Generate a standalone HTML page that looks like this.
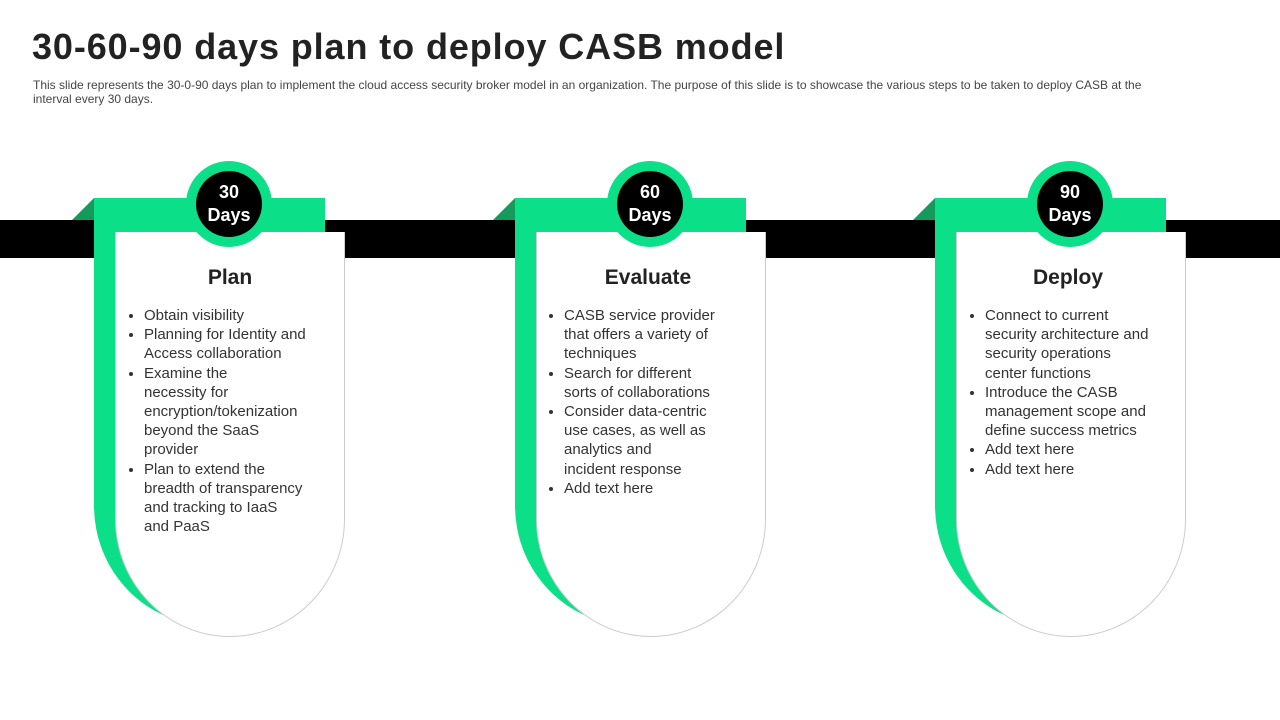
<!DOCTYPE html>
<html><head><style>
body{margin:0;width:1280px;height:720px;background:#fff;position:relative;overflow:hidden;font-family:"Liberation Sans",sans-serif;}
.t{position:absolute;left:32px;top:26px;font-size:36px;font-weight:bold;color:#222;letter-spacing:0.9px}
.s{position:absolute;left:33px;top:78px;font-size:12px;line-height:14px;color:#444;white-space:nowrap}
.band{position:absolute;left:0;top:220px;width:1280px;height:38px;background:#000}
.tri{position:absolute;width:0;height:0;border-bottom:22px solid #169a5c;border-left:22px solid transparent}
.g{position:absolute;width:231px;height:427px;background:#0be089;border-radius:0 0 116px 116px/0 0 120px 120px}
.w{position:absolute;width:230px;height:405px;background:#fff;border:1px solid #ccc;border-top:none;border-radius:0 0 115px 115px/0 0 118px 118px;box-sizing:border-box}
.c{position:absolute;width:86px;height:86px;border-radius:50%;background:#0be089}
.c div{position:absolute;left:10px;top:10px;width:66px;height:66px;border-radius:50%;background:#000;color:#fff;font-weight:bold;font-size:18px;line-height:23px;text-align:center;padding-top:10px;box-sizing:border-box}
.h{position:absolute;width:230px;text-align:center;font-size:21px;font-weight:bold;color:#222}
ul{position:absolute;margin:0;padding-left:20px;font-size:15px;line-height:19.2px;color:#333;width:230px;white-space:nowrap}
</style></head><body>
<div class="t">30-60-90 days plan to deploy CASB model</div>
<div class="s">This slide represents the 30-0-90 days plan to implement the cloud access security broker model in an organization. The purpose of this slide is to showcase the various steps to be taken to deploy CASB at the<br>interval every 30 days.</div>
<div class="band"></div>

<div class="tri" style="left:72px;top:198px"></div>
<div class="g" style="left:94px;top:198px"></div>
<div class="w" style="left:115px;top:232px"></div>
<div class="c" style="left:186px;top:161px"><div>30<br>Days</div></div>
<div class="h" style="left:115px;top:266px">Plan</div>
<ul style="left:124px;top:306px"><li>Obtain visibility</li><li>Planning for Identity and<br>Access collaboration</li><li>Examine the<br>necessity for<br>encryption/tokenization<br>beyond the SaaS<br>provider</li><li>Plan to extend the<br>breadth of transparency<br>and tracking to IaaS<br>and PaaS</li></ul>

<div class="tri" style="left:493px;top:198px"></div>
<div class="g" style="left:515px;top:198px"></div>
<div class="w" style="left:536px;top:232px"></div>
<div class="c" style="left:607px;top:161px"><div>60<br>Days</div></div>
<div class="h" style="left:533px;top:266px">Evaluate</div>
<ul style="left:544px;top:306px"><li>CASB service provider<br>that offers a variety of<br>techniques</li><li>Search for different<br>sorts of collaborations</li><li>Consider data-centric<br>use cases, as well as<br>analytics and<br>incident response</li><li>Add text here</li></ul>

<div class="tri" style="left:913px;top:198px"></div>
<div class="g" style="left:935px;top:198px"></div>
<div class="w" style="left:956px;top:232px"></div>
<div class="c" style="left:1027px;top:161px"><div>90<br>Days</div></div>
<div class="h" style="left:953px;top:266px">Deploy</div>
<ul style="left:965px;top:306px"><li>Connect to current<br>security architecture and<br>security operations<br>center functions</li><li>Introduce the CASB<br>management scope and<br>define success metrics</li><li>Add text here</li><li>Add text here</li></ul>
</body></html>
